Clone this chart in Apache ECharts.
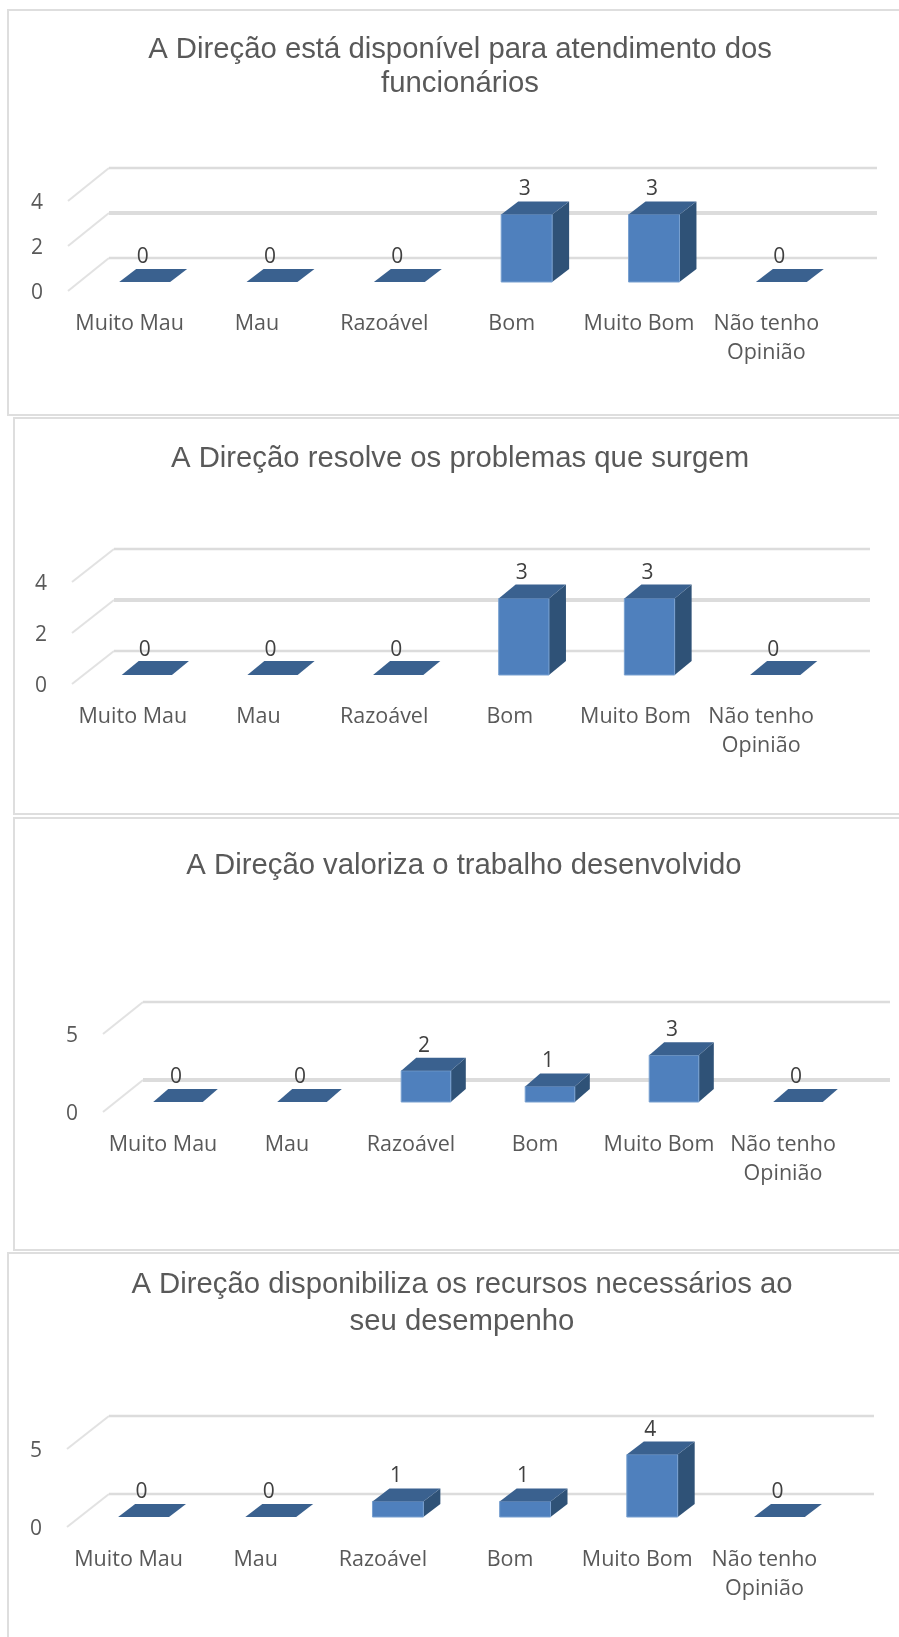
<!DOCTYPE html>
<html>
<head>
<meta charset="utf-8">
<style>
  html, body { margin: 0; padding: 0; background: #ffffff; }
  #chart { width: 899px; height: 1637px; }
</style>
<script src="https://cdn.jsdelivr.net/npm/echarts@6/dist/echarts.min.js"></script>
</head>
<body>
<div id="chart"></div>
<script>
const categories = ['Muito Mau', 'Mau', 'Razoável', 'Bom', 'Muito Bom', 'Não tenho\nOpinião'];
const chartTitles = [
  'A Direção está disponível para atendimento dos\nfuncionários',
  'A Direção resolve os problemas que surgem',
  'A Direção valoriza o trabalho desenvolvido',
  'A Direção disponibiliza os recursos necessários ao\nseu desempenho'
];
const disponivelValues = [0, 0, 0, 3, 3, 0];
const resolveValues = [0, 0, 0, 3, 3, 0];
const valorizaValues = [0, 0, 2, 1, 3, 0];
const recursosValues = [0, 0, 1, 1, 4, 0];
const axisMax = [4, 4, 5, 5];
const axisStep = [2, 2, 5, 5];

const allValues = [disponivelValues, resolveValues, valorizaValues, recursosValues];

// page layout of each panel, all in px
const panels = [
  { frame: [8, 10, 1000, 405], left: 66, right: 830, top: 201, bottom: 291, titleX: 460, titleY: 50, titleLine: 34, wallDx: 43, wallDy: 33, wallEnd: 877, lift: 9, shift: 15, depthX: 17, depthY: 13, labelGap: 12, heavy: 1 },
  { frame: [14, 418, 1000, 396], left: 70, right: 824, top: 582, bottom: 684, titleX: 460, titleY: 459, titleLine: 34, wallDx: 44, wallDy: 33, wallEnd: 870, lift: 9, shift: 14, depthX: 17, depthY: 14, labelGap: 11, heavy: 1 },
  { frame: [14, 818, 1000, 432], left: 101, right: 845, top: 1034, bottom: 1112, titleX: 464, titleY: 866, titleLine: 34, wallDx: 42, wallDy: 32, wallEnd: 890, lift: 10, shift: 15, depthX: 15, depthY: 13, labelGap: 12, heavy: 0 },
  { frame: [8, 1253, 1000, 500], left: 65, right: 828, top: 1449, bottom: 1527, titleX: 462, titleY: 1285, titleLine: 37, wallDx: 44, wallDy: 33, wallEnd: 874, lift: 10, shift: 15, depthX: 17, depthY: 13, labelGap: 12, heavy: -1 }
];

const BAR_FRONT = '#4f80bd';
const BAR_SIDE = '#2f5277';
const BAR_TOP = '#3a618f';
const GRID_COLOR = '#dcdcdc';

function wallRenderer(panel) {
  return function (params, api) {
    const tick = api.value(0);
    const y = api.coord([0, tick])[1];
    const x0 = params.coordSys.x;
    const heavy = params.dataIndex === panel.heavy;
    return {
      type: 'group',
      children: [
        {
          type: 'line',
          shape: { x1: x0 + 2, y1: y, x2: x0 + panel.wallDx, y2: y - panel.wallDy },
          style: { stroke: '#e2e2e2', lineWidth: 2 }
        },
        {
          type: 'line',
          shape: { x1: x0 + panel.wallDx, y1: y - panel.wallDy, x2: panel.wallEnd, y2: y - panel.wallDy },
          style: { stroke: GRID_COLOR, lineWidth: heavy ? 4 : 2.5 }
        }
      ]
    };
  };
}

function barRenderer(panel) {
  return function (params, api) {
    const value = api.value(1);
    const base = api.coord([api.value(0), 0]);
    const top = api.coord([api.value(0), value]);
    const half = api.size([1, 0])[0] * 0.2;
    const xl = base[0] + panel.shift - half;
    const xr = base[0] + panel.shift + half;
    const yb = base[1] - panel.lift;
    const yt = top[1] - panel.lift;
    const dx = panel.depthX;
    const dy = panel.depthY;
    const children = [];
    if (value > 0) {
      children.push({
        type: 'polygon',
        shape: { points: [[xr, yb], [xr + dx, yb - dy], [xr + dx, yt - dy], [xr, yt]] },
        style: { fill: BAR_SIDE }
      });
      children.push({
        type: 'rect',
        shape: { x: xl, y: yt, width: xr - xl, height: yb - yt },
        style: { fill: BAR_FRONT, stroke: '#78a0d0', lineWidth: 1 }
      });
    }
    children.push({
      type: 'polygon',
      shape: { points: [[xl, yt], [xl + dx, yt - dy], [xr + dx, yt - dy], [xr, yt]] },
      style: { fill: BAR_TOP }
    });
    children.push({
      type: 'text',
      x: (xl + xr) / 2 - 2,
      y: yt - dy - panel.labelGap,
      style: {
        text: String(value),
        fill: '#404040',
        font: '21px "Open Sans"',
        align: 'center',
        verticalAlign: 'middle'
      }
    });
    return { type: 'group', children: children };
  };
}

const option = {
  animation: false,
  backgroundColor: '#ffffff',
  graphic: panels.map(function (p) {
    return {
      type: 'rect',
      silent: true,
      z: 0,
      shape: { x: p.frame[0], y: p.frame[1], width: p.frame[2], height: p.frame[3] },
      style: { fill: 'none', stroke: '#dedede', lineWidth: 2 }
    };
  }),
  title: panels.map(function (p, i) {
    return {
      text: chartTitles[i],
      left: p.titleX,
      top: p.titleY - p.titleLine / 2,
      textAlign: 'center',
      padding: 0,
      textStyle: {
        fontFamily: '"Liberation Sans"',
        fontSize: 29.3,
        fontWeight: 'normal',
        color: '#595959',
        lineHeight: p.titleLine
      }
    };
  }),
  grid: panels.map(function (p) {
    return { left: p.left, width: p.right - p.left, top: p.top, height: p.bottom - p.top };
  }),
  xAxis: panels.map(function (p, i) {
    return {
      type: 'category',
      gridIndex: i,
      data: categories,
      axisLine: { show: false },
      axisTick: { show: false },
      axisLabel: {
        interval: 0,
        margin: 18,
        fontFamily: '"Open Sans"',
        fontSize: 21.5,
        color: '#595959',
        lineHeight: 29,
        verticalAlign: 'top'
      }
    };
  }),
  yAxis: panels.map(function (p, i) {
    return {
      type: 'value',
      gridIndex: i,
      min: 0,
      max: axisMax[i],
      interval: axisStep[i],
      axisLine: { show: false },
      axisTick: { show: false },
      splitLine: { show: false },
      axisLabel: {
        margin: 23,
        // short top-aligned line box, drops the digits about 2px below the tick
        verticalAlign: 'top',
        lineHeight: 5,
        fontFamily: '"Open Sans"',
        fontSize: 21,
        color: '#595959'
      }
    };
  }),
  series: []
};

panels.forEach(function (p, i) {
  const ticks = [];
  for (let t = 0; t <= axisMax[i]; t += axisStep[i]) ticks.push([t]);
  option.series.push({
    type: 'custom',
    xAxisIndex: i,
    yAxisIndex: i,
    silent: true,
    z: 1,
    clip: false,
    renderItem: wallRenderer(p),
    encode: { y: 0 },
    data: ticks
  });
  option.series.push({
    type: 'custom',
    xAxisIndex: i,
    yAxisIndex: i,
    z: 2,
    clip: false,
    renderItem: barRenderer(p),
    encode: { x: 0, y: 1 },
    data: allValues[i].map(function (v, k) { return [k, v]; })
  });
});

var chart = echarts.init(document.getElementById('chart'));
chart.setOption(option);
</script>
</body>
</html>
